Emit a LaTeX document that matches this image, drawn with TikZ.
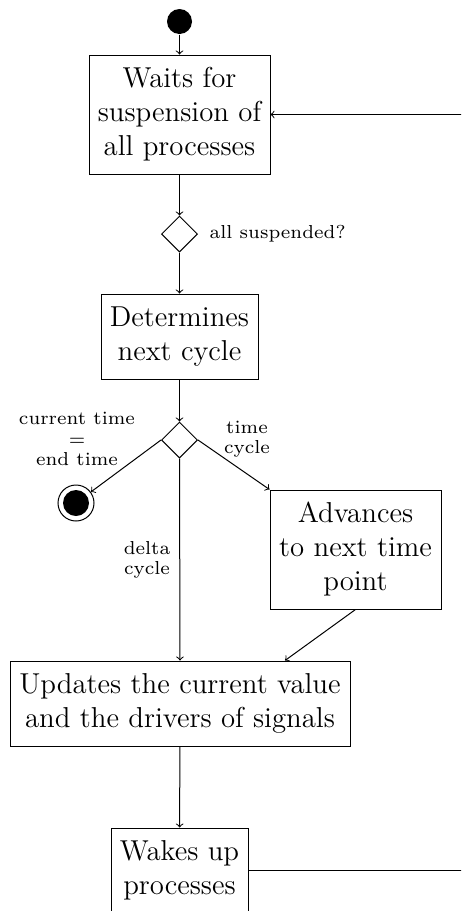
\documentclass[tikz,border=0pt]{standalone}
\usetikzlibrary{shapes.geometric}
\begin{document}
\begin{tikzpicture}[x=0.5pt, y=-0.5pt, line width=0.5pt,
  box/.style={draw, align=center, inner sep=0pt, font=\fontsize{14.4}{17}\selectfont},
  decision/.style={draw, diamond, inner sep=0pt, minimum width=18pt, minimum height=18pt},
  initstate/.style={circle, fill=black, inner sep=0pt, minimum size=12.5pt},
  endstate/.style={circle, draw, inner sep=0pt, minimum size=18pt,
    path picture={\fill (path picture bounding box.center) circle (6.5pt);}},
  lbl/.style={align=center, inner sep=0pt, scale=1.34, font=\fontsize{7}{7.6}\selectfont},
  flow/.style={->}]
\path[use as bounding box, clip] (0,0) rectangle (461,911);

% activity nodes
\node[initstate] (start) at (179.5,21.5) {};
\node[box, minimum width=90.5pt, minimum height=59.5pt] (wait) at (179.5,114.5)
  {Waits for\\suspension of\\all processes};
\node[decision] (susp) at (179.5,234) {};
\node[box, minimum width=78.5pt, minimum height=42.5pt] (next) at (179.5,336.5)
  {Determines\\next cycle};
\node[decision] (kind) at (179.5,440) {};
\node[endstate] (stop) at (76,503) {};
\node[box, minimum width=85.5pt, minimum height=59.5pt] (adv) at (355.5,549.5)
  {Advances\\to next time\\point};
\node[box, minimum width=170pt, minimum height=42.5pt] (upd) at (180,703.5)
  {Updates the current value\\and the drivers of signals};
\node[box, minimum width=68.5pt, minimum height=42.5pt] (wake) at (179.5,870.5)
  {Wakes up\\processes};

% guard labels
\node[lbl, anchor=west] (lsusp) at (209,234) {all suspended?};
\node[lbl] (lend) at (77,439) {current time\\=\\end time};
\node[lbl] (ltime) at (247,439) {time\\cycle};
\node[lbl] (ldelta) at (147,560) {delta\\cycle};

% control flow
\draw[flow] (start) -- (wait);
\draw[flow] (wait) -- (susp);
\draw[flow] (susp) -- (next);
\draw[flow] (next) -- (kind);
\draw[flow] (kind.west) -- (stop);
\draw[flow] (kind.east) -- (adv.north west);
\draw[flow] (kind.south) -- (upd.north);
\draw[flow] (adv.south) -- ([xshift=52.5pt]upd.north);
\draw[flow] (upd) -- (wake);
\draw[flow] (wake.east) -- ++(300,0) |- (wait.east);
\end{tikzpicture}
\end{document}
